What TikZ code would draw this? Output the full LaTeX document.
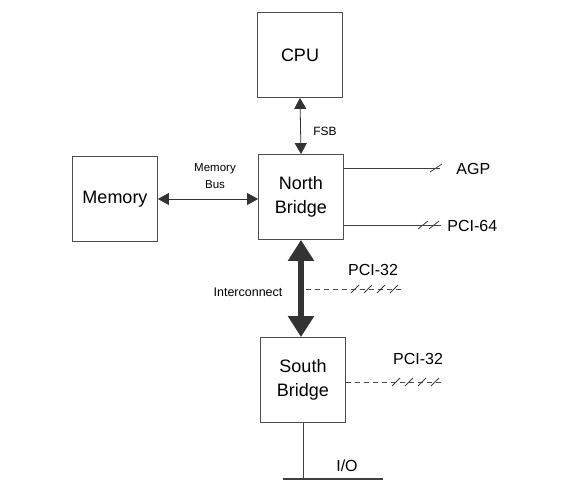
\documentclass[tikz,border=0pt]{standalone}
\usepackage{fontspec}
\setmainfont{Liberation Sans}
\usetikzlibrary{positioning,arrows.meta,calc}

\begin{document}
\begin{tikzpicture}[
  x=1pt, y=-1pt,
  line width=0.8pt, draw=black!80,
  unit/.style={
    draw=black!70, align=center, fill=white,
    minimum width=85pt, minimum height=85pt, inner sep=2pt,
    font=\fontsize{18}{24}\selectfont
  },
  buslabel/.style={font=\fontsize{16}{19}\selectfont, inner sep=1pt},
  smalllabel/.style={font=\fontsize{11.5}{17}\selectfont, align=center, inner sep=1pt},
  busline/.style={draw=black!75, line width=0.8pt},
  pciline/.style={draw=black!70, line width=0.8pt, dash pattern=on 5pt off 4pt},
  slash/.style={draw=black!75, line width=0.8pt},
  link/.style={draw=black!80, line width=0.8pt, {Triangle[length=11pt,width=12pt]}-{Triangle[length=11pt,width=12pt]}},
  bigarrow/.style={draw=black!80, line width=6pt, {Triangle[length=21pt,width=25pt]}-{Triangle[length=21pt,width=25pt]}}
]
\useasboundingbox (0,0) rectangle (579,481);

% ---------- Units ----------
\node[unit] (cpu) at (300,55)  {CPU};
\node[unit] (nb)  at (301,197) {North\\Bridge};
\node[unit] (mem) at (115,199) {Memory};
\node[unit] (sb)  at (303,380) {South\\Bridge};

% ---------- Front side bus and memory bus ----------
\draw[link] (cpu.south) -- (nb.north);
\node[smalllabel, font=\fontsize{12}{14}\selectfont] (fsb) at (325,131) {FSB};
\draw[link] (mem.east |- 0,199) -- (nb.west |- 0,199);
\node[smalllabel] (membus) at (215,176) {Memory\\Bus};

% ---------- AGP and PCI-64 ----------
\coordinate (agp) at (440,168);
\draw[busline] (nb.east |- agp) -- (agp);
\draw[slash] ($(agp)+(-10,4)$) -- ++(12,-8);
\node[buslabel, anchor=west] (agplbl) at (455,169) {AGP};

\coordinate (pcisf) at (441,225);
\draw[busline] (nb.east |- pcisf) -- (pcisf);
\foreach \dx in {-18,-7}
  \draw[slash] ($(pcisf)+(\dx,0)+(-5,4)$) -- ++(10,-8);
\node[buslabel, anchor=west] (pcisflbl) at (446,226) {PCI-64};

% ---------- Interconnect ----------
\draw[bigarrow] (nb.south) -- (nb.south |- sb.north);
\node[smalllabel, font=\fontsize{12.5}{14}\selectfont] (intlbl) at (248,292) {Interconnect};

\coordinate (pcia) at (403,289);
\draw[pciline] (306,289) -- (pcia);
\foreach \dx in {-48,-35,-22,-9}
  \draw[slash] ($(pcia)+(\dx,0)+(-4,4)$) -- ++(8,-8);
\node[buslabel] (pcialbl) at (373,270) {PCI-32};

% ---------- South bridge buses ----------
\coordinate (pcib) at (444,382);
\draw[pciline] (sb.east |- pcib) -- (pcib);
\foreach \dx in {-48,-35,-22,-9}
  \draw[slash] ($(pcib)+(\dx,0)+(-4,4)$) -- ++(8,-8);
\node[buslabel] (pciblbl) at (418,359) {PCI-32};

\coordinate (iol) at (283,479);
\coordinate (ior) at (383,479);
\draw[busline, line width=1.6pt] (iol) -- (ior);
\draw[busline] (sb.south) -- (sb.south |- iol);
\node[buslabel] (iolbl) at (347,466) {I/O};

\end{tikzpicture}
\end{document}
